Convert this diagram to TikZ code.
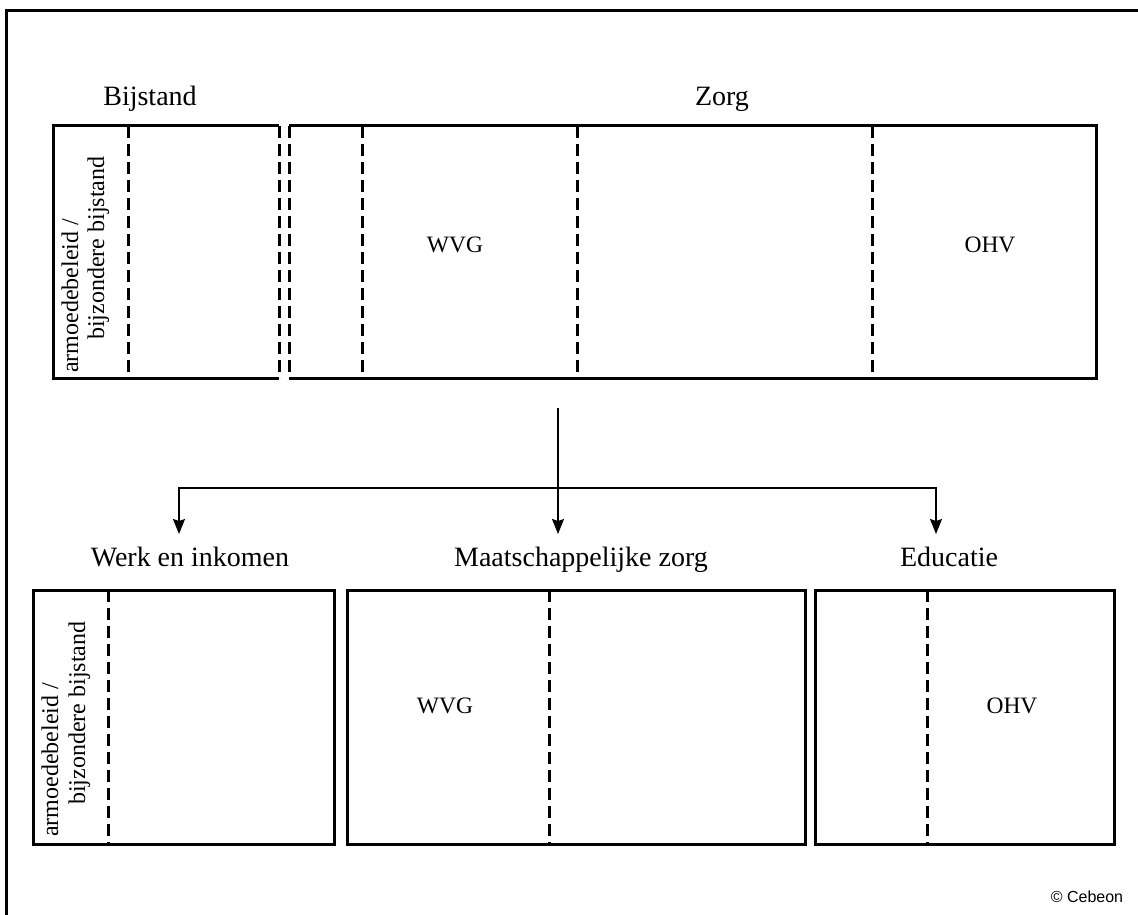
\documentclass[tikz,border=0pt]{standalone}
\usepackage{fontspec}
\setmainfont{Liberation Serif}
\newfontfamily\arialfont{Liberation Sans}
\usetikzlibrary{arrows.meta}
\tikzset{
  boxline/.style={line width=3pt},
  dashline/.style={line width=3pt, dash pattern=on 12pt off 6pt},
  framel/.style={line width=3pt},
  conn/.style={line width=1.6pt},
  arr/.style={conn, -{Stealth[length=15pt,width=12pt,inset=2pt]}},
  head/.style={font=\fontsize{28}{33}\selectfont, anchor=base, inner sep=0pt},
  lab/.style={font=\fontsize{23.5}{28}\selectfont, inner sep=0pt},
  rot/.style={font=\fontsize{24}{28}\selectfont, rotate=90, anchor=base west, inner sep=0pt},
}
\begin{document}
\begin{tikzpicture}[x=1pt,y=-1pt]
\useasboundingbox (0,0) rectangle (1138,915);
% frame
\draw[framel] (6,915) -- (6,11) -- (1138,11);
% top boxes
\draw[boxline] (279,126) -- (53,126) -- (53,378) -- (279,378);
\draw[dashline] (279,126) -- (279,378);
\draw[dashline] (128,126) -- (128,378);
\draw[boxline] (289,126) -- (1096,126) -- (1096,378) -- (289,378);
\draw[dashline] (289,126) -- (289,378);
\draw[dashline] (362,126) -- (362,378);
\draw[dashline] (577,126) -- (577,378);
\draw[dashline] (872,126) -- (872,378);
% bottom boxes
\draw[boxline] (33,590) rectangle (334,844);
\draw[dashline] (108,590) -- (108,844);
\draw[boxline] (347,590) rectangle (805,844);
\draw[dashline] (549,590) -- (549,844);
\draw[boxline] (815,590) rectangle (1114,844);
\draw[dashline] (927,590) -- (927,844);
% headings
\node[head] (hbij) at (150,106) {Bijstand};
\node[head] (hzorg) at (722,106) {Zorg};
\node[head] (hwerk) at (190,566) {Werk en inkomen};
\node[head] (hmaat) at (581,566) {Maatschappelijke zorg};
\node[head] (hedu) at (949,566) {Educatie};
% inner labels
\node[lab] (wvg1) at (455,245) {WVG};
\node[lab] (ohv1) at (990,245) {OHV};
\node[lab] (wvg2) at (445,706) {WVG};
\node[lab] (ohv2) at (1012,706) {OHV};
% rotated labels
\node[rot] (ar1) at (78,373) {armoedebeleid /};
\node[rot] (bz1) at (104,340) {bijzondere bijstand};
\node[rot] (ar2) at (58,837) {armoedebeleid /};
\node[rot] (bz2) at (85,805) {bijzondere bijstand};
% connectors
\coordinate (src) at (558,408);
\coordinate (split) at (558,488);
\coordinate (t1) at (179,534);
\coordinate (t2) at (558,534);
\coordinate (t3) at (936,534);
\draw[conn] (src) -- (split);
\draw[arr] (split) -- (t2);
\draw[arr] (split) -| (t1);
\draw[arr] (split) -| (t3);
% copyright
\node[font=\arialfont\fontsize{16}{19}\selectfont, anchor=base, inner sep=0pt] (copy) at (1087,902) {© Cebeon};
\end{tikzpicture}
\end{document}
